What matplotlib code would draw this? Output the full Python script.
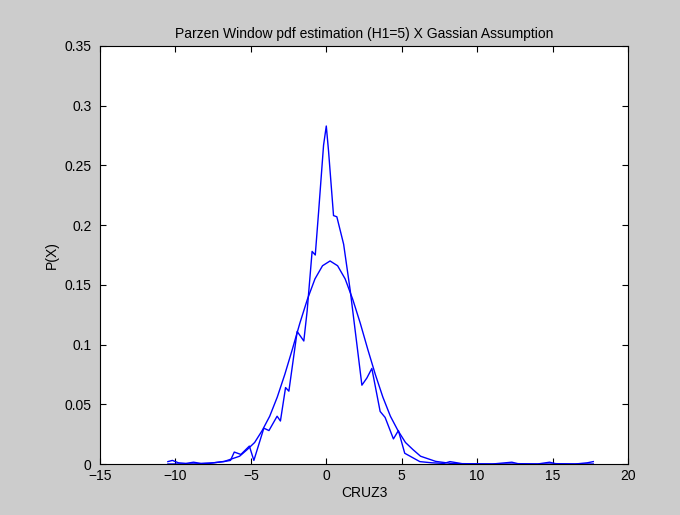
import matplotlib
matplotlib.use("Agg")
import matplotlib.pyplot as plt

parzen_x = [-10.5, -10.2, -9.8, -9.3, -8.8, -8.3, -7.5, -6.8, -6.35, -6.1, -5.66, -5.1, -4.8,
            -4.14, -3.8, -3.26, -3.04, -2.7, -2.48, -1.93, -1.49, -1.27, -0.94, -0.73,
            -0.51, -0.18, 0.0, 0.15, 0.48, 0.70, 1.15, 1.59, 2.03, 2.36, 2.69, 3.02,
            3.57, 3.9, 4.45, 4.78, 5.2, 6.2, 7.0, 7.8, 8.2, 9.0, 11.0, 12.3, 12.7, 14.0,
            14.8, 15.2, 16.5, 17.3, 17.7]
parzen_y = [0.002, 0.003, 0.001, 0.0005, 0.0015, 0.0005, 0.001, 0.002, 0.003, 0.010, 0.008, 0.015, 0.003,
            0.030, 0.028, 0.040, 0.036, 0.064, 0.061, 0.111, 0.103, 0.128, 0.178, 0.175,
            0.211, 0.267, 0.283, 0.262, 0.208, 0.207, 0.184, 0.145, 0.100, 0.066, 0.072, 0.080,
            0.044, 0.039, 0.021, 0.028, 0.009, 0.002, 0.001, 0.0005, 0.002, 0.0003, 0.0, 0.0015, 0.0003, 0.0,
            0.0015, 0.0003, 0.0, 0.001, 0.002]

gauss_x = [-10.5, -8.75, -7.75, -6.75, -5.75, -5.25, -4.75, -4.25, -3.75, -3.25, -2.75, -2.25,
           -1.75, -1.25, -0.75, -0.25, 0.25, 0.75, 1.25, 1.75, 2.25, 2.75, 3.25, 3.75,
           4.25, 4.75, 5.25, 5.75, 6.25, 7.25, 8.25, 9.25, 10.25, 17.7]
gauss_y = [0.0, 0.0001, 0.0005, 0.0022, 0.0065, 0.012, 0.018, 0.028, 0.040, 0.056, 0.075, 0.096,
           0.118, 0.138, 0.155, 0.166, 0.170, 0.166, 0.155, 0.138, 0.118, 0.096, 0.075, 0.056,
           0.040, 0.028, 0.018, 0.012, 0.0065, 0.0022, 0.0005, 0.0001, 0.0, 0.0]

plt.rcParams['font.family'] = ['Liberation Sans', 'DejaVu Sans']
fig = plt.figure(figsize=(6.8, 5.15), dpi=100, facecolor='#cccccc')
ax = fig.add_axes([100/680, 1-464/515, 528/680, 418/515])
ax.set_facecolor('white')
ax.plot(parzen_x, parzen_y, color='#0000ff', lw=1.0)
ax.plot(gauss_x, gauss_y, color='#0000ff', lw=1.0)
ax.set_xlim(-15, 20)
ax.set_ylim(0, 0.35)
ax.set_xticks([-15, -10, -5, 0, 5, 10, 15, 20])
ax.set_yticks([0, 0.05, 0.1, 0.15, 0.2, 0.25, 0.3, 0.35])
ax.set_yticklabels(['0', '0.05', '0.1', '0.15', '0.2', '0.25', '0.3', '0.35'])
ax.tick_params(direction='in', top=True, right=True, labelsize=10, length=4)
ax.tick_params(axis='y', pad=6)
ax.set_xlabel('CRUZ3', fontsize=10, labelpad=2)
ax.set_ylabel('P(X)', fontsize=10)
ax.set_title('Parzen Window pdf estimation (H1=5) X Gassian Assumption', fontsize=10, pad=6)
fig.savefig('out.png', dpi=100, facecolor=fig.get_facecolor())
